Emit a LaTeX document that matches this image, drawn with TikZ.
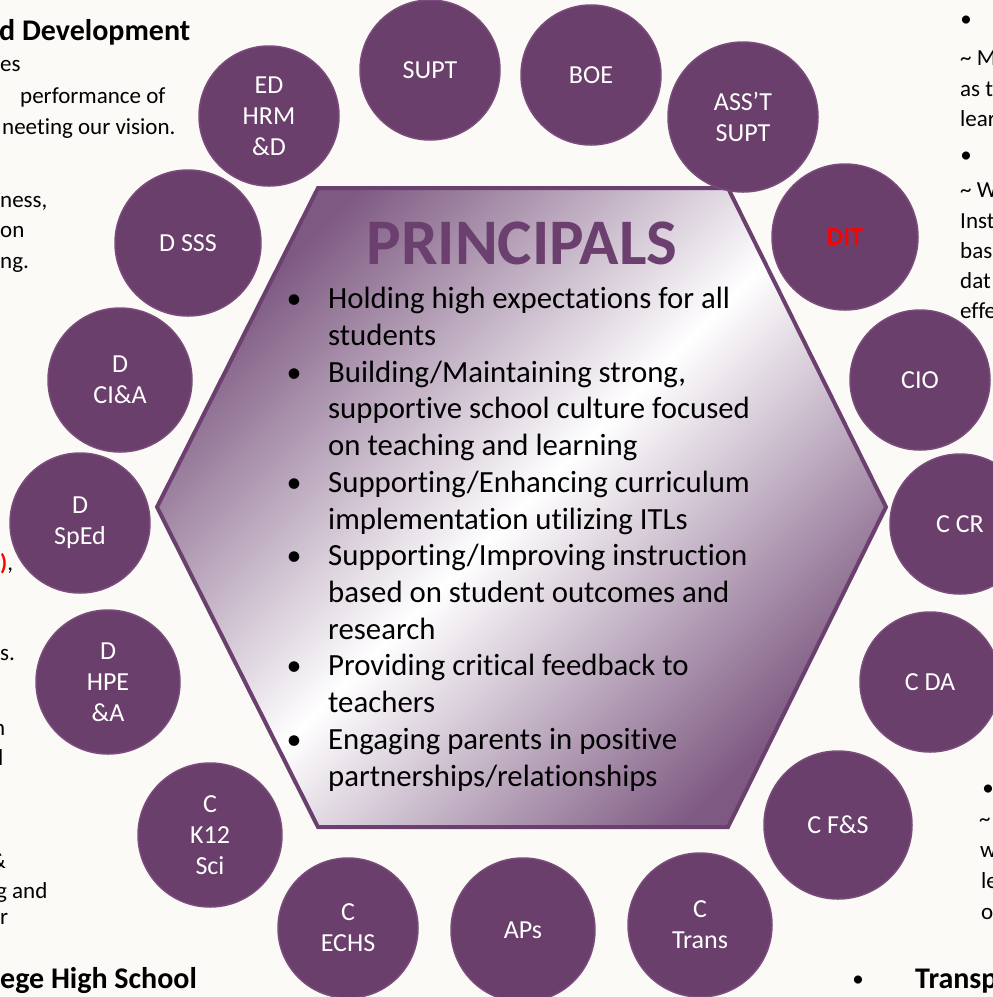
\documentclass[tikz,border=0pt]{standalone}
\usepackage{fontspec}
\setmainfont{Carlito}[Ligatures={NoCommon,NoContextual},RawFeature=-liga]
\definecolor{bgc}{HTML}{FCFAF6}
\definecolor{circfill}{HTML}{6B3F6C}
\definecolor{circedge}{HTML}{7A4C7C}
\definecolor{hexdark}{HTML}{7E5A82}
\definecolor{hexline}{HTML}{6B3F6E}
\definecolor{titlepurple}{HTML}{6B3F6E}
\tikzset{
  circ/.style={circle, minimum size=#1, inner sep=0pt, fill=circfill, draw=circedge, line width=1.5pt,
    text=white, align=center, font=\fontsize{26}{31}\selectfont},
  circ/.default=140pt,
  hextext/.style={anchor=base west, inner sep=0pt, font=\fontsize{30.8}{37}\selectfont, text=black},
  hexbullet/.style={anchor=base, inner sep=0pt, font=\fontsize{30}{37}\selectfont, text=black},
  edgetext/.style={anchor=base west, inner sep=0pt, font=\fontsize{23}{31}\selectfont, text=black},
  edgebold/.style={anchor=base west, inner sep=0pt, font=\fontsize{30}{37}\selectfont\bfseries, text=black},
}
\begin{document}
\begin{tikzpicture}[x=1pt,y=-1pt]
\useasboundingbox (0,0) rectangle (993,997);
\clip (0,0) rectangle (993,997);
\fill[bgc] (0,0) rectangle (993,997);

% edge fragments, left
\node[edgebold] (l1) at (-1,40) {d Development};
\node[edgetext] (l2) at (0,71) {es};
\node[edgetext] (l3) at (20,103) {performance of};
\node[edgetext] (l4) at (2,134) {neeting our vision.};
\node[edgetext] (l5) at (0,207) {ness,};
\node[edgetext] (l6) at (0,237) {on};
\node[edgetext] (l7) at (0,268) {ng.};
\node[edgetext] (l8) at (0,570) {\textcolor{red}{\textbf{)}},};
\node[edgetext] (l9) at (0,660) {s.};
\node[edgetext] (l10) at (-7,735) {n};
\node[edgetext] (l11) at (-2,765) {l};
\node[edgetext] (l12) at (-10,868) {\&};
\node[edgetext] (l13) at (-4,898) {g and};
\node[edgetext] (l14) at (0,924) {r};
\node[edgebold] (l15) at (0,988) {ege High School};

% edge fragments, right
\node[edgetext,anchor=base] (r0) at (966,26) {•};
\node[edgetext] (r1) at (960,65) {\textasciitilde{} M};
\node[edgetext] (r2) at (960,96) {as t};
\node[edgetext] (r3) at (960,126) {lear};
\node[edgetext,anchor=base] (r4) at (966,162) {•};
\node[edgetext] (r5) at (960,197) {\textasciitilde{} W};
\node[edgetext] (r6) at (960,228) {Inst};
\node[edgetext] (r7) at (960,258) {bas};
\node[edgetext] (r8) at (960,288) {dat};
\node[edgetext] (r9) at (960,318) {effe};
\node[edgetext,anchor=base] (r10) at (988,795) {•};
\node[edgetext] (r11) at (979,826) {\textasciitilde};
\node[edgetext] (r12) at (980,857) {w};
\node[edgetext] (r13) at (981,888) {le};
\node[edgetext] (r14) at (981,919) {o};
\node[edgetext,anchor=base] (r15) at (858,986) {•};
\node[edgebold] (r16) at (915,988) {Transp};

% hexagon
\coordinate (h1) at (318,188);
\coordinate (h2) at (728,188);
\coordinate (h3) at (886,507);
\coordinate (h4) at (728,827);
\coordinate (h5) at (318,827);
\coordinate (h6) at (157,507);
\shade[top color=hexdark, bottom color=hexdark, middle color=white, shading angle=45]
  (h1) -- (h2) -- (h3) -- (h4) -- (h5) -- (h6) -- cycle;
\draw[hexline, line width=4pt, line join=miter]
  (h1) -- (h2) -- (h3) -- (h4) -- (h5) -- (h6) -- cycle;

\node[anchor=base, inner sep=0pt, font=\fontsize{65}{72}\selectfont\bfseries, text=titlepurple] (title) at (522,264) {PRINCIPALS};

\node[hexbullet] (b1) at (294,308) {•};
\node[hextext] (t1) at (328,308) {Holding high expectations for all};
\node[hextext] (t2) at (328,345) {students};
\node[hexbullet] (b2) at (294,382) {•};
\node[hextext] (t3) at (328,382) {Building/Maintaining strong,};
\node[hextext] (t4) at (328,418) {supportive school culture focused};
\node[hextext] (t5) at (328,455) {on teaching and learning};
\node[hexbullet] (b3) at (294,492) {•};
\node[hextext] (t6) at (328,492) {Supporting/Enhancing curriculum};
\node[hextext] (t7) at (328,529) {implementation utilizing ITLs};
\node[hexbullet] (b4) at (294,565) {•};
\node[hextext] (t8) at (328,565) {Supporting/Improving instruction};
\node[hextext] (t9) at (328,602) {based on student outcomes and};
\node[hextext] (t10) at (328,639) {research};
\node[hexbullet] (b5) at (294,675) {•};
\node[hextext] (t11) at (328,675) {Providing critical feedback to};
\node[hextext] (t12) at (328,712) {teachers};
\node[hexbullet] (b6) at (294,749) {•};
\node[hextext] (t13) at (328,749) {Engaging parents in positive};
\node[hextext] (t14) at (328,786) {partnerships/relationships};

% circles
\node[circ] (supt) at (430,70) {SUPT};
\node[circ] (boe) at (591,75) {BOE};
\node[circ] (edhrm) at (269,116) {ED\\HRM\\\&D};
\node[circ=150pt] (asst) at (743,117) {ASS’T\\SUPT};
\node[circ=146pt] (dsss) at (188,243) {D SSS};
\node[circ=146pt] (dit) at (845,237) {\textcolor{red}{\textbf{DIT}}};
\node[circ=144pt] (dcia) at (120,380) {D\\CI\&A};
\node[circ] (cio) at (920,380) {CIO};
\node[circ] (dsped) at (80,523) {D\\SpEd};
\node[circ] (ccr) at (960,524) {C CR};
\node[circ=144pt] (dhpe) at (108,682) {D\\HPE\\\&A};
\node[circ] (cda) at (930,682) {C DA};
\node[circ=144pt] (ck12) at (210,835) {C\\K12\\Sci};
\node[circ=148pt] (cfs) at (838,825) {C F\&S};
\node[circ] (cechs) at (348,928) {C\\ECHS};
\node[circ=144pt] (aps) at (523,930) {APs};
\node[circ=144pt] (ctrans) at (700,925) {C\\Trans};
\end{tikzpicture}
\end{document}
